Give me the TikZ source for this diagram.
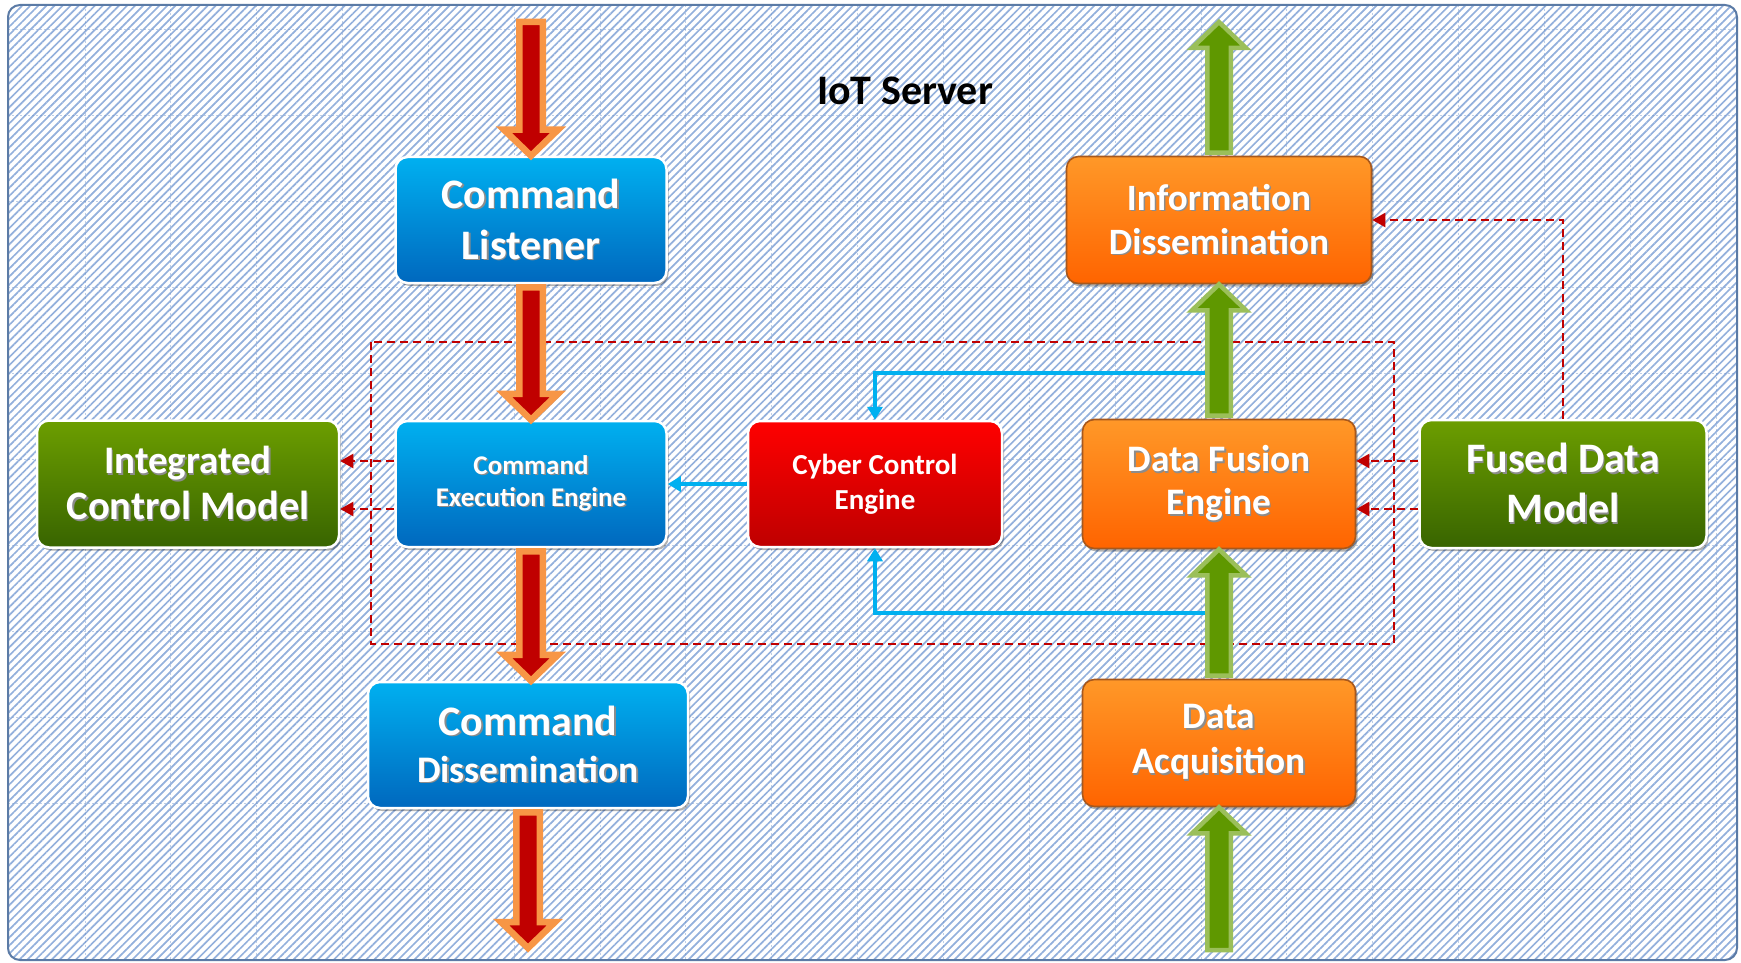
\documentclass[tikz,border=0pt]{standalone}
\usepackage{fontspec}
\setmainfont{Carlito}
\usetikzlibrary{calc,patterns.meta,shadows,arrows.meta}
\definecolor{framecol}{HTML}{5B7BA6}
\definecolor{stripe}{HTML}{93B0DC}
\definecolor{gridcol}{HTML}{6F93C8}
\definecolor{blueT}{HTML}{00B0F0}
\definecolor{blueB}{HTML}{0068BE}
\definecolor{redT}{HTML}{FF0000}
\definecolor{redB}{HTML}{BE0000}
\definecolor{orT}{HTML}{FF9828}
\definecolor{orB}{HTML}{FF6400}
\definecolor{orEdge}{HTML}{A8581C}
\definecolor{grT}{HTML}{6C9E00}
\definecolor{grB}{HTML}{386400}
\definecolor{arrRed}{HTML}{C00000}
\definecolor{arrOrange}{HTML}{F79646}
\definecolor{arrGreen}{HTML}{5F9800}
\definecolor{arrLGreen}{HTML}{9BBF5A}
\definecolor{connBlue}{HTML}{00B0F0}
\definecolor{dashRed}{HTML}{C00000}
\newcommand{\tsh}[1]{\leavevmode\rlap{\hspace{1.5pt}\raisebox{-1.6pt}{\textcolor{black!45}{#1}}}#1}
\newcommand{\dnblock}[5]{%
  \filldraw[fill=#3, draw=#4, line width=#5, line join=miter]
  let \p1=(#1), \p2=(#2) in
  (\x1-11.75pt,\y1) -- (\x1-11.75pt,\y2+26pt) -- (\x1-27pt,\y2+26pt) -- (\x1,\y2)
  -- (\x1+27pt,\y2+26pt) -- (\x1+11.75pt,\y2+26pt) -- (\x1+11.75pt,\y1) -- cycle;}
\newcommand{\upblock}[5]{%
  \filldraw[fill=#3, draw=#4, line width=#5, line join=miter]
  let \p1=(#1), \p2=(#2) in
  (\x1-11.75pt,\y1) -- (\x1-11.75pt,\y2-26pt) -- (\x1-27pt,\y2-26pt) -- (\x1,\y2)
  -- (\x1+27pt,\y2-26pt) -- (\x1+11.75pt,\y2-26pt) -- (\x1+11.75pt,\y1) -- cycle;}
\tikzset{
  boxbase/.style={rounded corners=12pt, align=center, text=white, inner sep=0pt,
    drop shadow={shadow xshift=2pt, shadow yshift=-3pt, opacity=0.3, fill=black}},
  bluebox/.style={boxbase, top color=blueT, bottom color=blueB, draw=white, line width=2.5pt},
  redbox/.style={boxbase, top color=redT, bottom color=redB, draw=white, line width=2.5pt},
  orbox/.style={boxbase, top color=orT, bottom color=orB, draw=orEdge, line width=1.6pt},
  grbox/.style={boxbase, top color=grT, bottom color=grB, draw=white, line width=2.5pt},
  fs/.style 2 args={font=\fontsize{#1}{#2}\selectfont\bfseries},
  bluearrow/.style={draw=connBlue, line width=3.5pt, -{Triangle[length=13pt,width=15pt]}},
  dasharrow/.style={draw=dashRed, line width=2.2pt, dash pattern=on 8pt off 5pt, -{Triangle[length=13pt,width=14pt]}},
  dashbox/.style={draw=dashRed, line width=2.2pt, dash pattern=on 8pt off 5pt},
  gridln/.style={draw=gridcol, line width=1pt, dash pattern=on 2pt off 2pt, opacity=0.45}
}
\begin{document}
\begin{tikzpicture}[x=1pt,y=-1pt]
\useasboundingbox (0,0) rectangle (1741,963);
\fill[white] (0,0) rectangle (1741,963);
% background panel
\fill[white, rounded corners=12pt] (8,5) rectangle (1737,960);
\fill[pattern={Lines[angle=45,distance=5.7pt,line width=1.7pt]}, pattern color=stripe, rounded corners=12pt] (8,5) rectangle (1737,960);
\begin{scope}
\clip[rounded corners=12pt] (8,5) rectangle (1737,960);
\foreach \i in {0,...,19} { \draw[gridln] (85+\i*85.85,5) -- (85+\i*85.85,960); }
\foreach \j in {0,...,10} { \draw[gridln] (8,30+\j*85.9) -- (1737,30+\j*85.9); }
\end{scope}
\draw[framecol, line width=2pt, rounded corners=12pt] (8,5) rectangle (1737,960);

% title
\node[fs={42}{46}, text=black] (title) at (905,91) {IoT Server};

% dashed rectangle
\draw[dashbox] (371,342) rectangle (1394,644);

% boxes
\node[bluebox, fs={42}{51}, minimum width=271pt, minimum height=126pt] (cl) at (531,220) {\tsh{Command}\\\tsh{Listener}};
\node[bluebox, fs={27}{32}, minimum width=271pt, minimum height=126pt] (cee) at (531,484) {\tsh{Command}\\\tsh{Execution Engine}};
\node[bluebox, fs={37.5}{47}, minimum width=320pt, minimum height=126pt] (cd) at (528,745) {{\fontsize{42}{47}\selectfont\tsh{Command}}\\\tsh{Dissemination}};
\node[grbox, fs={39}{46}, minimum width=302pt, minimum height=127pt] (icm) at (188,484) {\tsh{Integrated}\\{\fontsize{40.5}{46}\selectfont\tsh{Control Model}}};
\node[redbox, fs={29}{35}, minimum width=254pt, minimum height=126pt] (cce) at (875,484) {Cyber Control\\Engine};
\node[orbox, fs={37.2}{44}, minimum width=305pt, minimum height=127pt] (id) at (1219,220) {\tsh{Information}\\\tsh{Dissemination}};
\node[orbox, fs={37.4}{43}, minimum width=273pt, minimum height=129pt] (dfe) at (1219,484) {\tsh{Data Fusion}\\\tsh{Engine}};
\node[orbox, fs={37.4}{45}, minimum width=273pt, minimum height=127pt] (da) at (1219,743) {\tsh{Data}\\\tsh{Acquisition}};
\node[grbox, fs={42}{50}, minimum width=287pt, minimum height=128pt] (fdm) at (1563,484) {\tsh{Fused Data}\\\tsh{Model}};

% free ends
\coordinate (rtop) at (531,22);
\coordinate (rbot) at (531,948);
\coordinate (gtop) at (1219,22);
\coordinate (gbot) at (1219,950);
\coordinate (btop) at (1212,373);
\coordinate (bbot) at (1212,613);

% blue connectors
\draw[bluearrow] (btop) -| (cce.north);
\draw[bluearrow] (bbot) -| (cce.south);
\draw[bluearrow] (cce.west) -- (cee.east);

% dashed connectors
\draw[dasharrow] ([yshift=23pt]cee.west) -- ([yshift=23pt]icm.east);
\draw[dasharrow] ([yshift=-25pt]cee.west) -- ([yshift=-25pt]icm.east);
\draw[dasharrow] ([yshift=23pt]fdm.west) -- ([yshift=23pt]dfe.east);
\draw[dasharrow] ([yshift=-25pt]fdm.west) -- ([yshift=-25pt]dfe.east);
\draw[dasharrow] (fdm.north) |- (id.east);

% block arrows (red, down)
\dnblock{rtop}{cl.north}{arrRed}{arrOrange}{6.5pt}
\dnblock{[yshift=-3pt]cl.south}{cee.north}{arrRed}{arrOrange}{6.5pt}
\dnblock{[yshift=-3pt]cee.south}{cd.north}{arrRed}{arrOrange}{6.5pt}
\dnblock{[yshift=-3pt]cd.south}{rbot}{arrRed}{arrOrange}{6.5pt}
% block arrows (green, up)
\upblock{gbot}{da.south}{arrGreen}{arrLGreen}{4.5pt}
\upblock{[yshift=3pt]da.north}{dfe.south}{arrGreen}{arrLGreen}{4.5pt}
\upblock{[yshift=3pt]dfe.north}{id.south}{arrGreen}{arrLGreen}{4.5pt}
\upblock{[yshift=3pt]id.north}{gtop}{arrGreen}{arrLGreen}{4.5pt}
\end{tikzpicture}
\end{document}
